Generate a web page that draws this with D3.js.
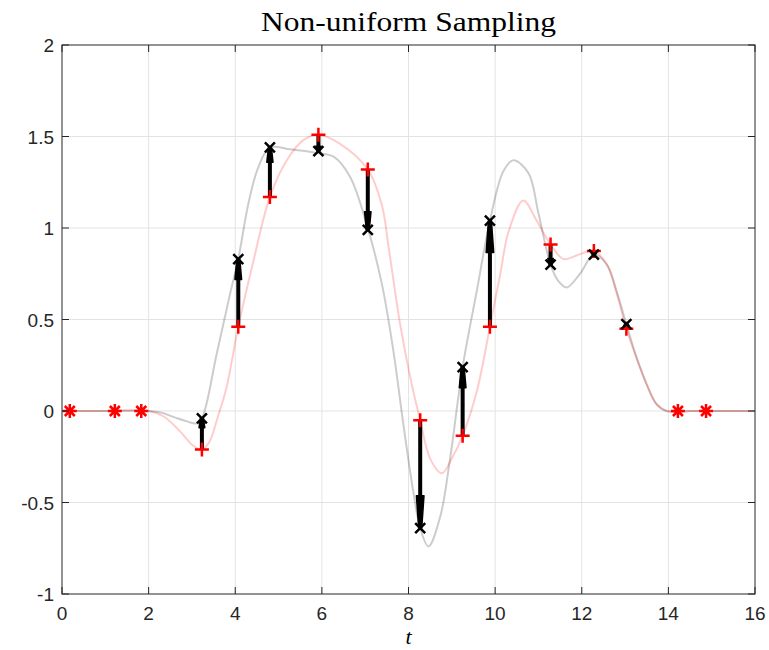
<!DOCTYPE html>
<html>
<head>
<meta charset="utf-8">
<script src="https://cdn.jsdelivr.net/npm/d3@7"></script>
<style>
  body { margin: 0; background: #fff; }
  svg { display: block; }
</style>
</head>
<body>
<script>
// sample times (nonuniform) and values
const sampleT = [3.23, 4.07, 4.8, 5.92, 7.06, 8.27, 9.25, 9.88, 11.28, 12.28, 13.03];
const reconV  = [-0.21, 0.46, 1.17, 1.51, 1.32, -0.05, -0.135, 0.46, 0.91, 0.875, 0.45];
const origV   = [-0.04, 0.83, 1.44, 1.42, 0.99, -0.64, 0.24, 1.04, 0.80, 0.855, 0.475];
const zeroT   = [0.18, 1.22, 1.83, 14.22, 14.87];

// continuous curves (gray = original, pink = reconstruction)
const origCurveT = [0, 1, 2.0, 2.3, 2.6, 2.9, 3.1, 3.23, 3.57, 3.88, 4.07, 4.3, 4.53, 4.8, 5.27, 5.88, 6.27, 6.65, 7.07, 7.38, 7.65, 7.88, 8.11, 8.27, 8.46, 8.73, 8.96, 9.25, 9.58, 9.88, 10.19, 10.42, 10.77, 11.0, 11.28, 11.46, 11.65, 11.96, 12.28, 12.58, 12.81, 13.03, 13.27, 13.5, 13.73, 13.96, 14.5, 15, 16];
const origCurveV = [0, 0, 0, -0.01, -0.035, -0.058, -0.068, -0.04, 0.31, 0.64, 0.83, 1.13, 1.33, 1.44, 1.43, 1.41, 1.39, 1.28, 0.99, 0.70, 0.33, -0.07, -0.44, -0.64, -0.74, -0.58, -0.26, 0.24, 0.66, 1.04, 1.31, 1.37, 1.30, 1.08, 0.80, 0.71, 0.675, 0.75, 0.855, 0.80, 0.65, 0.475, 0.29, 0.146, 0.037, 0, 0, 0, 0];
const reconCurveT = [0, 1, 2.0, 2.35, 2.72, 3.03, 3.23, 3.4, 3.6, 3.8, 4.07, 4.42, 4.8, 5.19, 5.57, 5.92, 6.42, 7.06, 7.38, 7.55, 7.81, 8.07, 8.27, 8.5, 8.77, 9.0, 9.25, 9.58, 9.88, 10.12, 10.31, 10.65, 10.96, 11.28, 11.58, 11.88, 12.28, 12.58, 12.81, 13.03, 13.27, 13.5, 13.73, 13.96, 14.5, 15, 16];
const reconCurveV = [0, 0, 0, -0.03, -0.11, -0.19, -0.21, -0.17, -0.03, 0.13, 0.46, 0.82, 1.17, 1.37, 1.48, 1.51, 1.46, 1.32, 1.13, 0.88, 0.47, 0.15, -0.05, -0.26, -0.34, -0.26, -0.135, 0.11, 0.46, 0.75, 0.98, 1.15, 1.04, 0.91, 0.83, 0.85, 0.875, 0.80, 0.64, 0.45, 0.285, 0.144, 0.036, 0, 0, 0, 0];

const xTicks = [0, 2, 4, 6, 8, 10, 12, 14, 16];
const yTicks = [-1, -0.5, 0, 0.5, 1, 1.5, 2];

const width = 769, height = 650;
const svg = d3.select("body").append("svg")
  .attr("width", width)
  .attr("height", height);

const x = d3.scaleLinear().domain([0, 16]).range([62, 755]);
const y = d3.scaleLinear().domain([-1, 2]).range([594, 45]);

const axisColor = "#262626";

// grid
svg.append("g").selectAll("line")
  .data(xTicks.slice(1, -1)).enter().append("line")
  .attr("x1", d => x(d)).attr("x2", d => x(d))
  .attr("y1", y(-1)).attr("y2", y(2))
  .attr("stroke", "#e3e3e3").attr("stroke-width", 1);
svg.append("g").selectAll("line")
  .data(yTicks.slice(1, -1)).enter().append("line")
  .attr("x1", x(0)).attr("x2", x(16))
  .attr("y1", d => y(d)).attr("y2", d => y(d))
  .attr("stroke", "#e3e3e3").attr("stroke-width", 1);

// curves
const line = d3.line().x(d => x(d[0])).y(d => y(d[1])).curve(d3.curveCatmullRom.alpha(0.5));
svg.append("path")
  .attr("d", line(origCurveT.map((t, i) => [t, origCurveV[i]])))
  .attr("fill", "none").attr("stroke", "#000").attr("stroke-opacity", 0.2).attr("stroke-width", 2);
svg.append("path")
  .attr("d", line(reconCurveT.map((t, i) => [t, reconCurveV[i]])))
  .attr("fill", "none").attr("stroke", "#ff0000").attr("stroke-opacity", 0.2).attr("stroke-width", 2);

// arrows from reconstruction samples to original samples
const arrows = svg.append("g");
sampleT.forEach((t, i) => {
  const x0 = x(t), y0 = y(reconV[i]), y1 = y(origV[i]);
  const len = y1 - y0;
  const dir = Math.sign(len);
  const headLen = Math.abs(len) * 0.3;
  const hw = 2.5 + Math.min(Math.abs(len) * 0.012, 1.5);
  arrows.append("line")
    .attr("x1", x0).attr("y1", y0)
    .attr("x2", x0).attr("y2", y1 - dir * headLen * 0.5)
    .attr("stroke", "#000").attr("stroke-width", 4);
  const yb = y1 - dir * headLen;
  arrows.append("path")
    .attr("d", `M${x0 - hw},${yb}L${x0 + hw},${yb}L${x0 + 1.5},${y1}L${x0 - 1.5},${y1}Z`)
    .attr("fill", "#000").attr("stroke", "#000").attr("stroke-width", 1.5).attr("stroke-linejoin", "round");
});

// markers
const plus = (cx, cy, r) => `M${cx - r},${cy}H${cx + r}M${cx},${cy - r}V${cy + r}`;
const cross = (cx, cy, r) => `M${cx - r},${cy - r}L${cx + r},${cy + r}M${cx - r},${cy + r}L${cx + r},${cy - r}`;

svg.append("g").selectAll("path")
  .data(sampleT.map((t, i) => [t, reconV[i]])).enter().append("path")
  .attr("d", d => plus(x(d[0]), y(d[1]), 7))
  .attr("stroke", "#ff0000").attr("stroke-width", 2.5).attr("fill", "none");
svg.append("g").selectAll("path")
  .data(sampleT.map((t, i) => [t, origV[i]])).enter().append("path")
  .attr("d", d => cross(x(d[0]), y(d[1]), 5))
  .attr("stroke", "#000").attr("stroke-width", 2.5).attr("fill", "none");

// zero-valued samples drawn as red asterisks
svg.append("g").selectAll("path")
  .data(zeroT).enter().append("path")
  .attr("d", d => plus(x(d), y(0), 7) + cross(x(d), y(0), 5))
  .attr("stroke", "#ff0000").attr("stroke-width", 2.5).attr("fill", "none");

// box + inward ticks
svg.append("rect")
  .attr("x", x(0)).attr("y", y(2))
  .attr("width", x(16) - x(0)).attr("height", y(-1) - y(2))
  .attr("fill", "none").attr("stroke", axisColor).attr("stroke-width", 1);

const tickLen = 7;
const ticks = svg.append("g").attr("stroke", axisColor).attr("stroke-width", 1);
xTicks.forEach(t => {
  ticks.append("line").attr("x1", x(t)).attr("x2", x(t)).attr("y1", y(-1)).attr("y2", y(-1) - tickLen);
  ticks.append("line").attr("x1", x(t)).attr("x2", x(t)).attr("y1", y(2)).attr("y2", y(2) + tickLen);
});
yTicks.forEach(v => {
  ticks.append("line").attr("x1", x(0)).attr("x2", x(0) + tickLen).attr("y1", y(v)).attr("y2", y(v));
  ticks.append("line").attr("x1", x(16)).attr("x2", x(16) - tickLen).attr("y1", y(v)).attr("y2", y(v));
});

// tick labels
svg.append("g").selectAll("text")
  .data(xTicks).enter().append("text")
  .attr("x", d => x(d)).attr("y", y(-1) + 26)
  .attr("text-anchor", "middle")
  .attr("font-family", "Liberation Sans, Arial, sans-serif").attr("font-size", 19)
  .attr("fill", axisColor)
  .text(d => d);
svg.append("g").selectAll("text")
  .data(yTicks).enter().append("text")
  .attr("x", x(0) - 8).attr("y", d => y(d) + 7)
  .attr("text-anchor", "end")
  .attr("font-family", "Liberation Sans, Arial, sans-serif").attr("font-size", 19)
  .attr("fill", axisColor)
  .text(d => d);

// title and axis label
svg.append("text")
  .attr("x", (x(0) + x(16)) / 2).attr("y", 31)
  .attr("text-anchor", "middle")
  .attr("font-family", "Liberation Serif, DejaVu Serif, serif").attr("font-size", 27)
  .attr("textLength", 295).attr("lengthAdjust", "spacingAndGlyphs")
  .attr("fill", "#000")
  .text("Non-uniform Sampling");
svg.append("text")
  .attr("x", (x(0) + x(16)) / 2).attr("y", 644)
  .attr("text-anchor", "middle")
  .attr("font-family", "Liberation Serif, DejaVu Serif, serif").attr("font-size", 22)
  .attr("font-style", "italic")
  .attr("fill", "#000")
  .text("t");
</script>
</body>
</html>
